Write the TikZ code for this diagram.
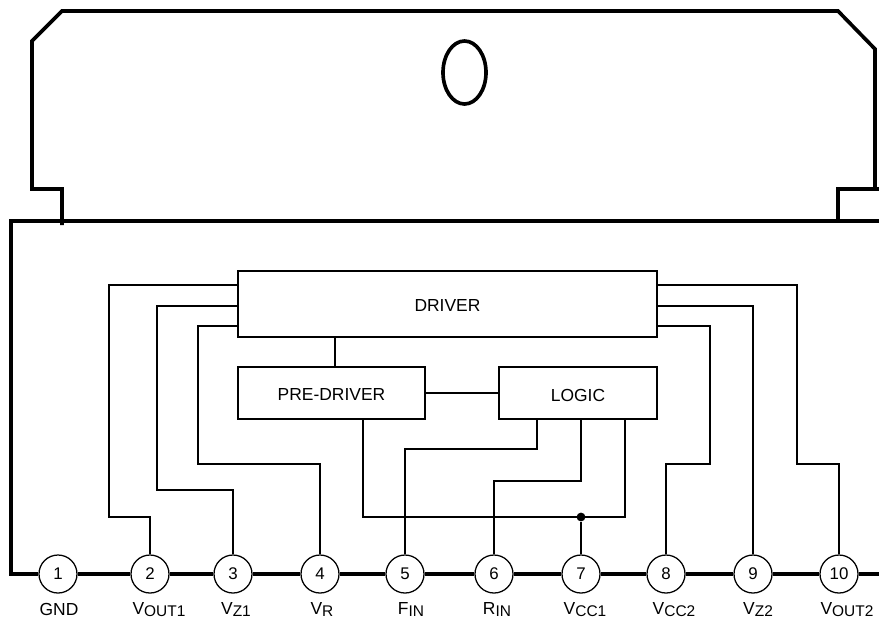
\documentclass[tikz,border=0pt]{standalone}
\usepackage{fontspec}
\setmainfont{Liberation Sans}
\usetikzlibrary{calc,shapes.geometric}
\pgfdeclarelayer{background}
\pgfsetlayers{background,main}
\newcommand{\sublabel}[2]{#1{\fontsize{11}{12}\selectfont\raisebox{-2pt}{#2}}}
\newcommand{\boxlabel}[1]{\raisebox{-1.4pt}[\height][0pt]{#1}}

\begin{document}
\begin{tikzpicture}[x=0.025cm,y=-0.025cm]
    \tikzset{WR/.style={draw=black,solid,line width=1.15pt}}
    \tikzset{HV/.style={draw=black,solid,line width=2.6pt,miter limit=10}}
    \tikzset{PN/.style={circle,inner sep=0mm,minimum size=0.95cm,font=\fontsize{12}{14}\selectfont,draw,line width=0.9pt,fill=white}}
    \tikzset{BX/.style={rectangle,inner sep=0mm,font=\fontsize{12.4}{14}\selectfont,draw,line width=1.15pt,fill=white}}
    \tikzset{LB/.style={inner sep=0mm,anchor=base,font=\fontsize{12.4}{14}\selectfont}}

    \useasboundingbox (0,0) rectangle (879,621);

    \node (driver) [BX,minimum width=10.475cm,minimum height=1.65cm] at (447.5,304) {\boxlabel{DRIVER}};
    \node (predriver) [BX,minimum width=4.675cm,minimum height=1.3cm] at (331.5,393) {\boxlabel{PRE-DRIVER}};
    \node (logic) [BX,minimum width=3.95cm,minimum height=1.3cm] at (578,393) {\boxlabel{LOGIC}};

    \node (1) [PN] at (58, 574) {1};
    \node (2) [PN] at (150, 574) {2};
    \node (3) [PN] at (233, 574) {3};
    \node (4) [PN] at (320, 574) {4};
    \node (5) [PN] at (405, 574) {5};
    \node (6) [PN] at (494, 574) {6};
    \node (7) [PN] at (581, 574) {7};
    \node (8) [PN] at (666, 574) {8};
    \node (9) [PN] at (753, 574) {9};
    \node (10) [PN] at (839, 574) {10};

    \node (l1) [LB] at (59, 615) {GND};
    \node (l2) [LB] at (159, 614) {\sublabel{V}{OUT1}};
    \node (l3) [LB] at (236, 614) {\sublabel{V}{Z1}};
    \node (l4) [LB] at (322, 614) {\sublabel{V}{R}};
    \node (l5) [LB] at (411, 614) {\sublabel{F}{IN}};
    \node (l6) [LB] at (497, 614) {\sublabel{R}{IN}};
    \node (l7) [LB] at (585, 614) {\sublabel{V}{CC1}};
    \node (l8) [LB] at (674, 614) {\sublabel{V}{CC2}};
    \node (l9) [LB] at (758, 614) {\sublabel{V}{Z2}};
    \node (l10) [LB] at (847, 614) {\sublabel{V}{OUT2}};

    % hole in the tab
    \node (hole) [ellipse,draw,line width=2.6pt,minimum width=1.075cm,minimum height=1.575cm,inner sep=0mm] at (464.5, 72.5) {};

    \coordinate (b2) at (109, 517);
    \coordinate (b3) at (157, 490);
    \coordinate (b4) at (198, 464);
    \coordinate (b5) at (537, 449);
    \coordinate (b6) at (581, 481);
    \coordinate (b8) at (710, 464);
    \coordinate (b10) at (797, 464);
    \coordinate (d2) at (238, 285);
    \coordinate (d3) at (238, 306);
    \coordinate (d4) at (238, 326);
    \coordinate (d8) at (657, 326);
    \coordinate (d9) at (657, 306);
    \coordinate (d10) at (657, 285);
    \coordinate (d0) at (335, 337);
    \coordinate (p0) at (335, 367);
    \coordinate (j1) at (363, 419);
    \coordinate (j2) at (625, 419);
    \coordinate (j3) at (363, 517);
    \coordinate (j4) at (625, 517);
    \coordinate (g5) at (537, 419);
    \coordinate (g6) at (581, 419);
    \node (dot) [circle,fill=black,inner sep=0mm,minimum size=0.22cm] at (581, 517) {};

    \begin{pgfonlayer}{background}
        % tab
        \draw[HV,line join=miter] (62, 225) -- (62, 189) -- (32, 189) -- (32, 41) -- (62, 11) -- (838, 11) -- (875, 49) -- (875, 189);
        \draw[HV] (879, 189) -- (838, 189) -- (838, 221);
        % body
        \draw[HV] (879, 221) -- (11, 221) -- (11, 574) -- (1);
        \path[HV] (1) -- (2);
        \path[HV] (2) -- (3);
        \path[HV] (3) -- (4);
        \path[HV] (4) -- (5);
        \path[HV] (5) -- (6);
        \path[HV] (6) -- (7);
        \path[HV] (7) -- (8);
        \path[HV] (8) -- (9);
        \path[HV] (9) -- (10);
        \path[HV] (10) -- (879, 574);

        \path[WR] (2) |- (b2) |- (d2);
        \path[WR] (3) |- (b3) |- (d3);
        \path[WR] (4) |- (b4) |- (d4);
        \path[WR] (5) |- (b5) -- (g5);
        \path[WR] (6) |- (b6) -- (g6);
        \path[WR] (7) -- (dot);
        \path[WR] (j1) -- (j3) -- (j4) -- (j2);
        \path[WR] (8) |- (b8) |- (d8);
        \path[WR] (9) |- (d9);
        \path[WR] (10) |- (b10) |- (d10);
        \path[WR] (predriver) -- (logic);
        \path[WR] (d0) -- (p0);
    \end{pgfonlayer}
\end{tikzpicture}
\end{document}
